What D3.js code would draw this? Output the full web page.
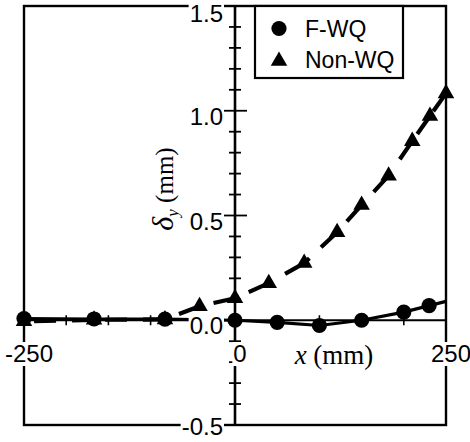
<!DOCTYPE html>
<html>
<head>
<meta charset="utf-8">
<script src="https://cdn.jsdelivr.net/npm/d3@7"></script>
<style>
  body { margin: 0; background: #fff; }
  svg { display: block; }
</style>
</head>
<body>
<script>
// Transverse deflection along the plate, two quenching conditions
const fwqX = [-250, -167, -83, 0, 50, 100, 150, 200, 230];
const fwqY = [0.008, 0.006, 0.005, 0, -0.01, -0.025, 0, 0.039, 0.07];
// F-WQ trend line, carried on to the right edge
const fwqLineX = [-250, -167, -83, 0, 50, 100, 150, 200, 230, 250];
const fwqLineY = [0.008, 0.006, 0.005, 0, -0.01, -0.025, 0, 0.039, 0.07, 0.09];
const nonX = [-250, -167, -83, -42, 0, 40, 82, 121, 150, 182, 210, 231, 250];
const nonY = [-0.005, 0.002, 0.004, 0.067, 0.105, 0.177, 0.273, 0.42, 0.55, 0.69, 0.855, 0.975, 1.083];

const yTicks = [-0.5, 0, 0.5, 1.0, 1.5];
const yTickLabels = ["-0.5", "0.0", "0.5", "1.0", "1.5"];
const xTicks = [-250, 0, 250];
const xTickLabels = ["-250", "0", "250"];
const xMinorTicks = [-200, -150, -100, -50, 50, 100, 150, 200];
const legendLabels = ["F-WQ", "Non-WQ"];

const W = 470, H = 442;
const sans = "'Liberation Sans', Arial, sans-serif";
const serif = "'Liberation Serif', 'Times New Roman', serif";

const svg = d3.select("body").append("svg").attr("width", W).attr("height", H);

const x = d3.scaleLinear().domain([-250, 250]).range([24, 446]);
const y = d3.scaleLinear().domain([-0.5, 1.5]).range([425, 6]);
const x0 = x(0), y0 = y(0);

// frame
svg.append("rect")
  .attr("x", x(-250)).attr("y", y(1.5))
  .attr("width", x(250) - x(-250)).attr("height", y(-0.5) - y(1.5))
  .attr("fill", "none").attr("stroke", "#000").attr("stroke-width", 2.4);

// axes through the origin
svg.append("line").attr("x1", x(-250)).attr("x2", x(250)).attr("y1", y0).attr("y2", y0)
  .attr("stroke", "#000").attr("stroke-width", 1.8);
svg.append("line").attr("x1", x0).attr("x2", x0).attr("y1", y(1.5)).attr("y2", y(-0.5))
  .attr("stroke", "#000").attr("stroke-width", 2.6);

// y ticks: minor every 0.1, longer at 0.5 and 1.0
const yMinor = d3.range(-5, 16).map(i => i / 10);
const isMajor = d => Math.abs(d - 0.5) < 1e-9 || Math.abs(d - 1) < 1e-9;
svg.append("g").selectAll("line").data(yMinor).join("line")
  .attr("x1", d => isMajor(d) ? x0 - 13 : x0 - 6)
  .attr("x2", d => isMajor(d) ? x0 + 12 : x0 + 6)
  .attr("y1", d => y(d)).attr("y2", d => y(d))
  .attr("stroke", "#000").attr("stroke-width", 1.8);

// x minor ticks on the zero line
svg.append("g").selectAll("line").data(xMinorTicks).join("line")
  .attr("x1", d => x(d)).attr("x2", d => x(d))
  .attr("y1", y0 - 5).attr("y2", y0 + 5)
  .attr("stroke", "#000").attr("stroke-width", 1.6);

// Non-WQ: dashed segments, each dashed back from its end point
const nonPts = nonX.map((v, i) => [x(v), y(nonY[i])]);
const segs = d3.pairs(nonPts);
svg.append("g").selectAll("line").data(segs).join("line")
  .attr("x1", d => d[1][0]).attr("y1", d => d[1][1])
  .attr("x2", d => d[0][0]).attr("y2", d => d[0][1])
  .attr("stroke", "#000").attr("stroke-width", 4.2)
  .attr("stroke-dasharray", "22,16");

// F-WQ: solid line
const line = d3.line().x(d => x(d[0])).y(d => y(d[1]));
svg.append("path")
  .datum(fwqLineX.map((v, i) => [v, fwqLineY[i]]))
  .attr("d", line)
  .attr("fill", "none").attr("stroke", "#000").attr("stroke-width", 3.2);

// markers
const tri = d3.symbol().type(d3.symbolTriangle).size(118);
svg.append("g").selectAll("path").data(nonX.map((v, i) => [v, nonY[i]])).join("path")
  .attr("d", tri)
  .attr("transform", d => `translate(${x(d[0])},${y(d[1])})`)
  .attr("fill", "#000");
svg.append("g").selectAll("circle").data(fwqX.map((v, i) => [v, fwqY[i]])).join("circle")
  .attr("cx", d => x(d[0])).attr("cy", d => y(d[1])).attr("r", 7.6)
  .attr("fill", "#000");

// text with a white knock-out behind it
function knockText(sel) {
  sel.each(function () {
    const b = this.getBBox();
    d3.select(this.parentNode).insert("rect", () => this)
      .attr("x", b.x - 1).attr("y", b.y + 2)
      .attr("width", b.width + 2).attr("height", b.height - 3)
      .attr("fill", "#fff");
  });
}

// y tick labels (kept inside the page at the top and bottom)
const yl = svg.append("g");
yTicks.forEach((v, i) => {
  const t = yl.append("text")
    .attr("x", x0 - 12).attr("y", Math.min(Math.max(y(v) + 14, 22), 435))
    .attr("text-anchor", "end")
    .attr("font-family", sans).attr("font-size", 24)
    .text(yTickLabels[i]);
  knockText(t);
});

// x tick labels
const xl = svg.append("g");
xTicks.forEach((v, i) => {
  const t = xl.append("text")
    .attr("x", x(v) + 5).attr("y", 362)
    .attr("text-anchor", "middle")
    .attr("font-family", sans).attr("font-size", 24)
    .text(xTickLabels[i]);
  knockText(t);
});

// x axis title
const xt = svg.append("text")
  .attr("x", 334).attr("y", 364)
  .attr("text-anchor", "middle")
  .attr("font-family", serif).attr("font-size", 27);
xt.append("tspan").attr("font-style", "italic").text("x");
xt.append("tspan").text(" (mm)");

// y axis title
const yt = svg.append("text")
  .attr("transform", "translate(173,189) rotate(-90)")
  .attr("text-anchor", "middle")
  .attr("font-family", serif).attr("font-size", 25);
yt.append("tspan").attr("font-style", "italic").attr("font-size", 30).text("δ");
yt.append("tspan").attr("font-style", "italic").attr("font-size", 17).attr("dy", 5).text("y");
yt.append("tspan").attr("dy", -5).text(" (mm)");

// legend
const lg = svg.append("g");
lg.append("rect")
  .attr("x", 255).attr("y", 6).attr("width", 148).attr("height", 72)
  .attr("fill", "#fff").attr("stroke", "#000").attr("stroke-width", 2.2);
lg.append("circle").attr("cx", 279).attr("cy", 28.5).attr("r", 7.6).attr("fill", "#000");
lg.append("path").attr("d", tri).attr("transform", "translate(279,61)").attr("fill", "#000");
lg.selectAll("text").data(legendLabels).join("text")
  .attr("x", 305).attr("y", (d, i) => 36.5 + i * 31)
  .attr("font-family", sans).attr("font-size", 23)
  .text(d => d);
</script>
</body>
</html>
